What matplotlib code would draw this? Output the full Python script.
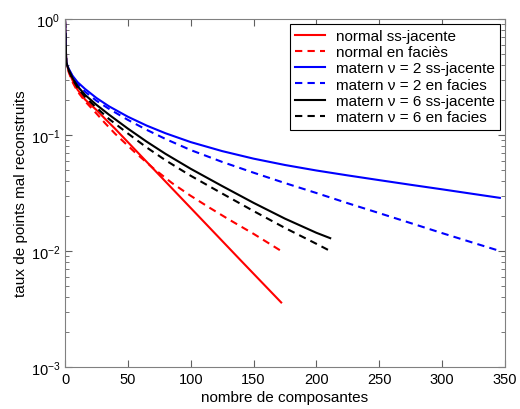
import matplotlib.pyplot as plt
import numpy as np

plt.rcParams['font.family'] = ['Liberation Sans', 'DejaVu Sans']
plt.rcParams['mathtext.fontset'] = 'custom'
plt.rcParams['mathtext.rm'] = 'Liberation Sans'

# normal ss-jacente
x_norm_s = [0, 1, 3, 6, 10, 16, 25, 32, 40, 60, 100, 140, 172]
y_norm_s = [0.97, 0.42, 0.3548, 0.2951, 0.2455, 0.2018, 0.1641, 0.1374, 0.1127,
            0.0668, 0.0235, 0.00826, 0.0036]

# normal en faciès
x_norm_f = [0, 1, 3, 6, 10, 16, 25, 32, 40, 55, 70, 85, 100, 115, 130, 150, 172]
y_norm_f = [0.97, 0.42, 0.3467, 0.2851, 0.2371, 0.195, 0.1531, 0.1259, 0.1021,
            0.0719, 0.0519, 0.0386, 0.0299, 0.0236, 0.0188, 0.01406, 0.01]

# matern nu=2 ss-jacente
x_m2_s = [0, 1, 3, 6, 10, 16, 25, 35, 50, 65, 80, 100, 125, 150, 175, 200, 225,
          250, 275, 300, 325, 346]
y_m2_s = [0.97, 0.42, 0.3715, 0.3236, 0.2851, 0.2489, 0.2084, 0.1766, 0.1436,
          0.1204, 0.1034, 0.0868, 0.0726, 0.0625, 0.0551, 0.0494, 0.0448, 0.0408,
          0.0372, 0.0340, 0.0310, 0.0287]

# matern nu=2 en facies
x_m2_f = [0, 1, 3, 6, 10, 16, 25, 35, 50, 65, 80, 100, 125, 150, 175, 200, 225,
          250, 275, 300, 325, 346]
y_m2_f = [0.97, 0.42, 0.3673, 0.3184, 0.2761, 0.2355, 0.1972, 0.1679, 0.1349,
          0.1107, 0.0923, 0.0741, 0.0586, 0.0473, 0.0385, 0.0316, 0.0258, 0.0212,
          0.0174, 0.01426, 0.01175, 0.01]

# matern nu=6 ss-jacente
x_m6_s = [0, 1, 3, 6, 10, 16, 25, 35, 50, 65, 80, 100, 125, 150, 175, 200, 211]
y_m6_s = [0.97, 0.42, 0.3631, 0.309, 0.263, 0.2213, 0.182, 0.1496, 0.1135, 0.0875,
          0.0687, 0.0511, 0.0363, 0.026, 0.019, 0.01435, 0.0129]

# matern nu=6 en facies
x_m6_f = [0, 1, 3, 6, 10, 16, 25, 35, 50, 65, 80, 100, 125, 150, 175, 200, 211]
y_m6_f = [0.97, 0.42, 0.3589, 0.3034, 0.2559, 0.2128, 0.1718, 0.1374, 0.103, 0.078,
          0.0605, 0.0445, 0.0313, 0.0221, 0.0158, 0.01153, 0.01]

labels = ['normal ss-jacente', 'normal en faciès',
          'matern ν = 2 ss-jacente', 'matern ν = 2 en facies',
          'matern ν = 6 ss-jacente', 'matern ν = 6 en facies']

fig = plt.figure(figsize=(5.2, 4.1), dpi=100, facecolor='white')
ax = fig.add_axes([0.125, 0.1024, 0.846, 0.849])

dash = (3.5, 2.5)
ax.semilogy(x_norm_s, y_norm_s, color='#ff0000', lw=1.5, label=labels[0])
ax.semilogy(x_norm_f, y_norm_f, color='#ff0000', lw=1.5, dashes=dash, label=labels[1])
ax.semilogy(x_m2_s, y_m2_s, color='#0000ff', lw=1.5, label=labels[2])
ax.semilogy(x_m2_f, y_m2_f, color='#0000ff', lw=1.5, dashes=dash, label=labels[3])
ax.semilogy(x_m6_s, y_m6_s, color='black', lw=1.5, label=labels[4])
ax.semilogy(x_m6_f, y_m6_f, color='black', lw=1.5, dashes=dash, label=labels[5])

ax.set_xlim(0, 350)
ax.set_ylim(1e-3, 1)
ax.set_xticks(np.arange(0, 351, 50))
ax.tick_params(which='both', direction='in', top=True, right=True,
               labelsize=10.5, color='#606060')
ax.tick_params(which='major', length=5)
ax.tick_params(which='minor', length=3)
for s in ax.spines.values():
    s.set_color('#808080')

ax.set_xlabel('nombre de composantes', fontsize=11, labelpad=3)
ax.set_ylabel('taux de points mal reconstruits', fontsize=11, labelpad=2)

leg = ax.legend(loc='upper right', fontsize=11, fancybox=False, framealpha=1,
                edgecolor='black', labelspacing=0.15, borderaxespad=0.3,
                handlelength=2.0, handletextpad=0.7, borderpad=0.35)
leg.get_frame().set_linewidth(0.8)

plt.savefig('out.png', dpi=100, facecolor='white')
